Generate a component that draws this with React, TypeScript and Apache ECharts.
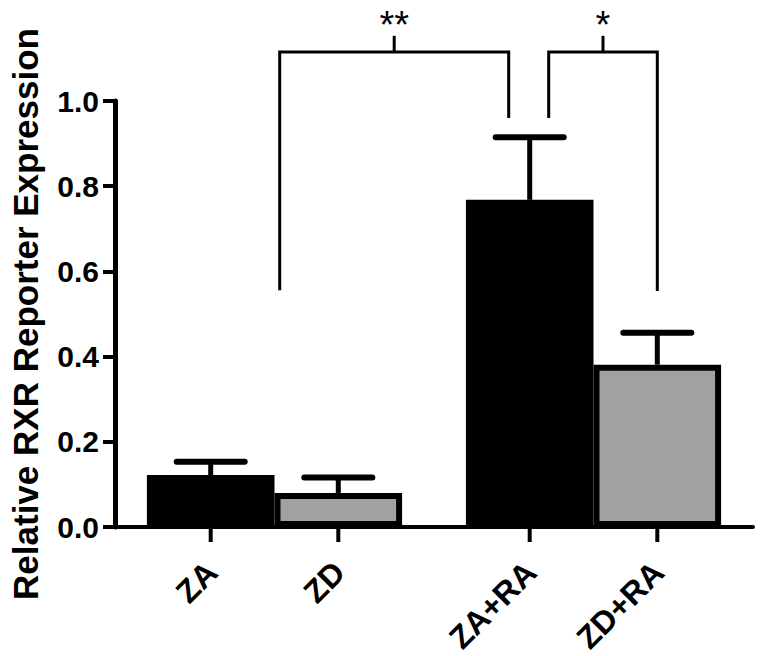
import React, { useEffect, useRef } from 'react';
import * as echarts from 'echarts';

// ---- data ----
const categories = ['ZA', 'ZD', 'ZA+RA', 'ZD+RA'];
const means = [0.122, 0.080, 0.768, 0.381];
const sems = [0.031, 0.036, 0.147, 0.075];
const yTickLabels = ['0.0', '0.2', '0.4', '0.6', '0.8', '1.0'];
const comparisons = [
  { from: 0, to: 2, label: '**' },
  { from: 2, to: 3, label: '*' },
];
const yTitle = 'Relative RXR Reporter Expression';

// ---- styles / layout ----
const FONT = "'Liberation Sans', Arial, Helvetica, sans-serif";
const BLACK = '#000000';
const GREY = '#a1a1a1';
// bracket leg offsets (px from bar centre) and leg-end levels (axis units)
const BRACKET_LAYOUT = [
  { dx1: 69, dx2: -21, y1: 0.556, y2: 0.96 },
  { dx1: 19, dx2: 0, y1: 0.96, y2: 0.554 },
];
const BRACKET_TOP = 1.115;
const BRACKET_TICK = 1.153;

const groupCount = categories.length / 2;
const groupNames = Array.from({ length: groupCount }, (_, g) =>
  categories.slice(g * 2, g * 2 + 2).join(' / ')
);
const firstOfPair = means.filter((_, i) => i % 2 === 0);
const secondOfPair = means.filter((_, i) => i % 2 === 1);

function barCenterX(api: any, idx: number) {
  const g = Math.floor(idx / 2);
  const side = idx % 2 === 0 ? -1 : 1;
  const band = api.size([1, 0])[0];
  return api.coord([g, 0])[0] + side * band * 0.2;
}

export default function App() {
  const ref = useRef<HTMLDivElement>(null);
  useEffect(() => {
    if (!ref.current) return;
    const chart = echarts.init(ref.current, null, { renderer: 'svg' });
    const option: any = {
      animation: false,
      backgroundColor: '#ffffff',
      grid: { left: 113, right: 9, top: 101, bottom: 129, containLabel: false },
      xAxis: {
        type: 'category',
        data: groupNames,
        axisLine: { lineStyle: { color: BLACK, width: 4 } },
        axisTick: { show: false },
        axisLabel: { show: false },
        splitLine: { show: false },
      },
      yAxis: {
        type: 'value',
        min: 0,
        max: 1,
        interval: 0.2,
        name: yTitle,
        nameLocation: 'middle',
        nameGap: 72,
        nameTextStyle: { fontFamily: FONT, fontSize: 35, fontWeight: 'bold', color: BLACK },
        axisLine: { show: true, lineStyle: { color: BLACK, width: 5 } },
        axisTick: { show: true, length: 12, lineStyle: { color: BLACK, width: 4 } },
        axisLabel: {
          margin: 16,
          fontFamily: FONT,
          fontSize: 30,
          fontWeight: 'bold',
          color: BLACK,
          formatter: (v: number) => yTickLabels[Math.round(v / 0.2)] ?? v.toFixed(1),
        },
        splitLine: { show: false },
      },
      series: [
        {
          type: 'bar',
          data: firstOfPair,
          barGap: '0%',
          barCategoryGap: '20%',
          itemStyle: { color: BLACK, borderColor: BLACK, borderWidth: 6 },
          z: 2,
        },
        {
          type: 'bar',
          data: secondOfPair,
          barGap: '0%',
          barCategoryGap: '20%',
          itemStyle: { color: GREY, borderColor: BLACK, borderWidth: 6 },
          z: 2,
        },
        {
          type: 'custom',
          clip: false,
          z: 5,
          encode: { x: 0, y: 1 },
          data: categories.map((_, i) => [Math.floor(i / 2), means[i], sems[i], i]),
          renderItem: (params: any, api: any) => {
            const g = api.value(0);
            const m = api.value(1);
            const s = api.value(2);
            const i = api.value(3);
            const cx = barCenterX(api, i);
            const y0 = api.coord([g, 0])[1];
            const yM = api.coord([g, m])[1];
            const yT = api.coord([g, m + s])[1];
            return {
              type: 'group',
              children: [
                { type: 'line', shape: { x1: cx, y1: yM, x2: cx, y2: yT }, style: { stroke: BLACK, lineWidth: 5 } },
                { type: 'line', shape: { x1: cx - 34, y1: yT, x2: cx + 34, y2: yT }, style: { stroke: BLACK, lineWidth: 6, lineCap: 'round' } },
                { type: 'line', shape: { x1: cx, y1: y0, x2: cx, y2: y0 + 15 }, style: { stroke: BLACK, lineWidth: 4 } },
                {
                  type: 'text',
                  x: cx + 1,
                  y: y0 + 40,
                  rotation: Math.PI / 4,
                  style: {
                    text: categories[i],
                    fontFamily: FONT,
                    fontSize: 32,
                    fontWeight: 'bold',
                    fill: BLACK,
                    align: 'right',
                    verticalAlign: 'middle',
                  },
                },
              ],
            };
          },
        },
        {
          type: 'custom',
          clip: false,
          z: 5,
          encode: { x: 0, y: 1 },
          data: comparisons.map((c, k) => [0, 0, c.from, c.to, k]),
          renderItem: (params: any, api: any) => {
            const from = api.value(2);
            const to = api.value(3);
            const k = api.value(4);
            const L = BRACKET_LAYOUT[k];
            const y = (v: number) => api.coord([0, v])[1];
            const xa = barCenterX(api, from) + L.dx1;
            const xb = barCenterX(api, to) + L.dx2;
            const yTop = y(BRACKET_TOP);
            const yTick = y(BRACKET_TICK);
            const xm = (xa + xb) / 2;
            return {
              type: 'group',
              children: [
                {
                  type: 'polyline',
                  shape: { points: [[xa, y(L.y1)], [xa, yTop], [xb, yTop], [xb, y(L.y2)]] },
                  style: { stroke: BLACK, lineWidth: 3, fill: null },
                },
                { type: 'line', shape: { x1: xm, y1: yTop, x2: xm, y2: yTick }, style: { stroke: BLACK, lineWidth: 3 } },
                {
                  type: 'text',
                  x: xm,
                  y: yTick - 11,
                  style: {
                    text: comparisons[k].label,
                    fontFamily: FONT,
                    fontSize: 38,
                    fontWeight: 'normal',
                    fill: BLACK,
                    align: 'center',
                    verticalAlign: 'middle',
                  },
                },
              ],
            };
          },
        },
      ],
    };
    chart.setOption(option);
    return () => chart.dispose();
  }, []);
  return (
    <div
      ref={ref}
      style={{ position: 'absolute', left: 0, top: 0, width: 762, height: 656, background: '#fff' }}
    />
  );
}
